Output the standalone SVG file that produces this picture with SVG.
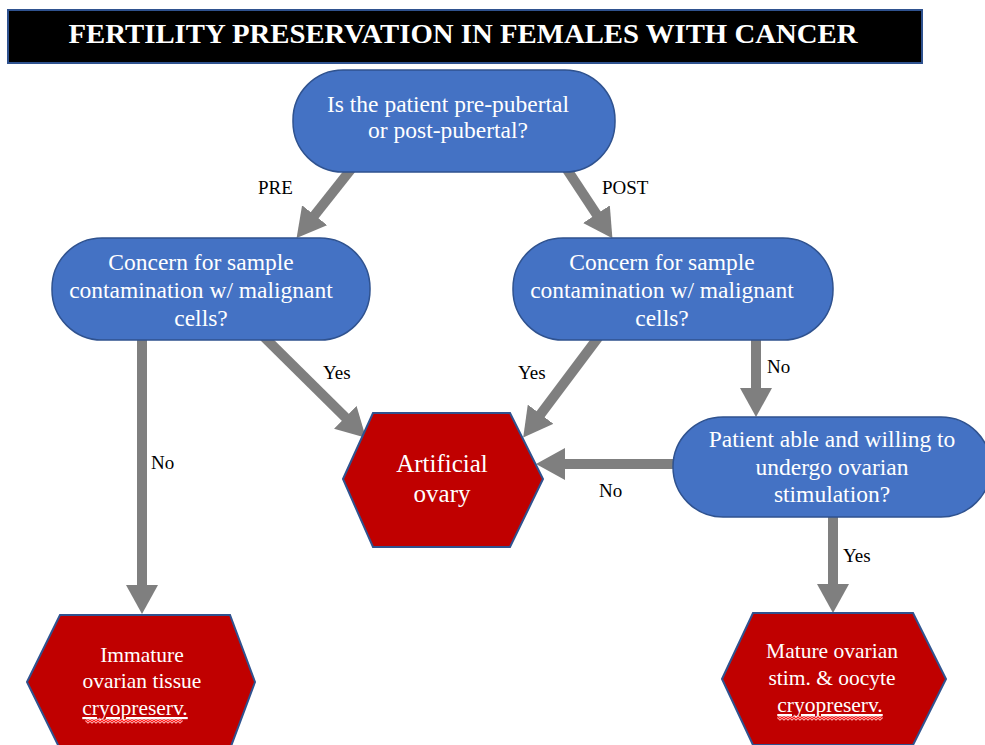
<svg xmlns="http://www.w3.org/2000/svg" width="985" height="745" viewBox="0 0 985 745">
<style>
.pill{fill:#4472C4;stroke:#2F528F;stroke-width:1.5}
.hex{fill:#C00000;stroke:#2F528F;stroke-width:2}
.nt{font-size:23.5px;fill:#fff;text-anchor:middle}
.ht{font-size:21.5px;fill:#fff;text-anchor:middle}
.lb{font-size:19px;fill:#000}
.cn{stroke:#7F7F7F;stroke-width:10;fill:none;marker-end:url(#ah)}
.sqw{stroke:#FFD8D8;stroke-width:2.6;fill:none}
.sq{stroke:#FF1A1A;stroke-width:1.1;fill:none}
</style>
<defs>
<marker id="ah" markerUnits="userSpaceOnUse" markerWidth="29" markerHeight="32" viewBox="0 0 29 32" refX="1" refY="16" orient="auto">
<path d="M0,0 L29,16 L0,32 z" fill="#7F7F7F"/>
</marker>
<path id="zz" d="l2,2 2,-2 2,2 2,-2 2,2 2,-2 2,2 2,-2"/>
</defs>
<rect width="985" height="745" fill="#fff"/>
<g font-family="'Liberation Serif', 'Times New Roman', serif">
<g id="title">
<rect x="8" y="10" width="914" height="53" fill="#000" stroke="#2F528F" stroke-width="2"/>
<text x="463" y="43" textLength="789" lengthAdjust="spacingAndGlyphs" font-size="28" font-weight="bold" fill="#fff" text-anchor="middle">FERTILITY PRESERVATION IN FEMALES WITH CANCER</text>
</g>
<g id="connectors">
<line class="cn" x1="352" y1="168" x2="314" y2="216"/>
<line class="cn" x1="566" y1="168" x2="597" y2="215"/>
<line class="cn" x1="258" y1="331" x2="346" y2="418"/>
<line class="cn" x1="603" y1="331" x2="540" y2="415"/>
<line class="cn" x1="142" y1="335" x2="142" y2="586"/>
<line class="cn" x1="756" y1="335" x2="756" y2="389"/>
<line class="cn" x1="680" y1="464" x2="564" y2="464"/>
<line class="cn" x1="833" y1="512" x2="833" y2="585"/>
<text class="lb" x="258" y="194">PRE</text>
<text class="lb" x="602" y="194">POST</text>
<text class="lb" x="151" y="469">No</text>
<text class="lb" x="323" y="379">Yes</text>
<text class="lb" x="518" y="379">Yes</text>
<text class="lb" x="767" y="373">No</text>
<text class="lb" x="599" y="497">No</text>
<text class="lb" x="843" y="562">Yes</text>
</g>
<g id="q-puberty">
<rect class="pill" x="293" y="70" width="322" height="102" rx="50" ry="50"/>
<text class="nt" x="448" y="112">Is the patient pre-pubertal</text>
<text class="nt" x="448" y="138">or post-pubertal?</text>
</g>
<g id="q-contam-pre">
<rect class="pill" x="52" y="238" width="318" height="102" rx="50" ry="50"/>
<text class="nt" x="201" y="270">Concern for sample</text>
<text class="nt" x="201" y="298">contamination w/ malignant</text>
<text class="nt" x="201" y="326">cells?</text>
</g>
<g id="q-contam-post">
<rect class="pill" x="513" y="238" width="320" height="102" rx="50" ry="50"/>
<text class="nt" x="662" y="270">Concern for sample</text>
<text class="nt" x="662" y="298">contamination w/ malignant</text>
<text class="nt" x="662" y="326">cells?</text>
</g>
<g id="q-stim">
<rect class="pill" x="673" y="417" width="318" height="100" rx="50" ry="50"/>
<text class="nt" x="832" y="447">Patient able and willing to</text>
<text class="nt" x="832" y="475">undergo ovarian</text>
<text class="nt" x="832" y="502">stimulation?</text>
</g>
<g id="artificial-ovary">
<polygon class="hex" points="343,479 373,413 510,413 543,479 510,547 373,547"/>
<text class="nt" style="font-size:25px" x="442" y="472">Artificial</text>
<text class="nt" style="font-size:25px" x="442" y="502">ovary</text>
</g>
<g id="immature">
<polygon class="hex" points="27,682 60,615 230,615 255,682 230,749 60,749"/>
<text class="ht" x="142" y="662">Immature</text>
<text class="ht" x="142" y="688">ovarian tissue</text>
<text class="ht" x="135" y="715" text-decoration="underline">cryopreserv.</text>
<path class="sqw" d="M86,720 l2,2 2,-2 2,2 2,-2 2,2 2,-2 2,2 2,-2 2,2 2,-2 2,2 2,-2 2,2 2,-2 2,2 2,-2 2,2 2,-2 2,2 2,-2 2,2 2,-2 2,2 2,-2 2,2 2,-2 2,2 2,-2 2,2 2,-2 2,2 2,-2 2,2 2,-2 2,2 2,-2 2,2 2,-2 2,2 2,-2 2,2 2,-2 2,2 2,-2 2,2 2,-2 2,2 2,-2"/>
<path class="sq" d="M86,720 l2,2 2,-2 2,2 2,-2 2,2 2,-2 2,2 2,-2 2,2 2,-2 2,2 2,-2 2,2 2,-2 2,2 2,-2 2,2 2,-2 2,2 2,-2 2,2 2,-2 2,2 2,-2 2,2 2,-2 2,2 2,-2 2,2 2,-2 2,2 2,-2 2,2 2,-2 2,2 2,-2 2,2 2,-2 2,2 2,-2 2,2 2,-2 2,2 2,-2 2,2 2,-2 2,2 2,-2"/>
</g>
<g id="mature">
<polygon class="hex" points="722,679 753,613 913,613 946,679 913,745 753,745"/>
<text class="ht" x="832" y="658">Mature ovarian</text>
<text class="ht" x="832" y="685">stim. &amp; oocyte</text>
<text class="ht" x="830" y="712" text-decoration="underline">cryopreserv.</text>
<path class="sqw" d="M778,717 l2,2 2,-2 2,2 2,-2 2,2 2,-2 2,2 2,-2 2,2 2,-2 2,2 2,-2 2,2 2,-2 2,2 2,-2 2,2 2,-2 2,2 2,-2 2,2 2,-2 2,2 2,-2 2,2 2,-2 2,2 2,-2 2,2 2,-2 2,2 2,-2 2,2 2,-2 2,2 2,-2 2,2 2,-2 2,2 2,-2 2,2 2,-2 2,2 2,-2 2,2 2,-2 2,2 2,-2 2,2 2,-2 2,2 2,-2"/>
<path class="sq" d="M778,717 l2,2 2,-2 2,2 2,-2 2,2 2,-2 2,2 2,-2 2,2 2,-2 2,2 2,-2 2,2 2,-2 2,2 2,-2 2,2 2,-2 2,2 2,-2 2,2 2,-2 2,2 2,-2 2,2 2,-2 2,2 2,-2 2,2 2,-2 2,2 2,-2 2,2 2,-2 2,2 2,-2 2,2 2,-2 2,2 2,-2 2,2 2,-2 2,2 2,-2 2,2 2,-2 2,2 2,-2 2,2 2,-2 2,2 2,-2"/>
</g>
</g>
</svg>
